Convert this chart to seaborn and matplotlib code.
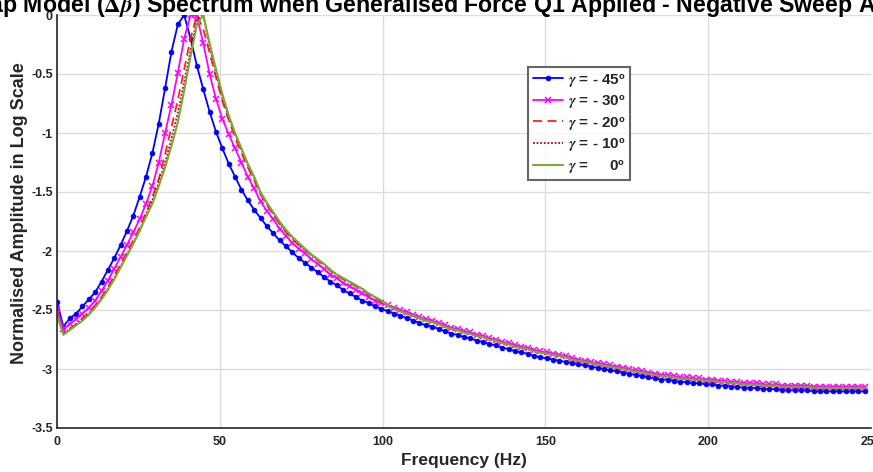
import numpy as np
import pandas as pd
import matplotlib
matplotlib.use("Agg")
import matplotlib.pyplot as plt
import seaborn as sns

# frequency bins (FFT resolution 500/256 Hz)
freq = np.arange(128) * 1.953125

gamma_m45 = [
    -2.43, -2.64, -2.57, -2.53, -2.47, -2.41, -2.35, -2.26, -2.16, -2.06,
    -1.95, -1.83, -1.70, -1.54, -1.37, -1.17, -0.92, -0.62, -0.31, -0.08,
    0.00, -0.20, -0.43, -0.63, -0.82, -0.99, -1.13, -1.26, -1.37, -1.48,
    -1.57, -1.65, -1.72, -1.79, -1.85, -1.91, -1.96, -2.01, -2.06, -2.10,
    -2.14, -2.18, -2.22, -2.26, -2.29, -2.33, -2.36, -2.39, -2.42, -2.44,
    -2.47, -2.49, -2.51, -2.53, -2.55, -2.57, -2.59, -2.61, -2.63, -2.64,
    -2.66, -2.68, -2.70, -2.71, -2.73, -2.74, -2.76, -2.77, -2.79, -2.80,
    -2.82, -2.83, -2.85, -2.86, -2.87, -2.89, -2.90, -2.91, -2.92, -2.93,
    -2.94, -2.95, -2.96, -2.97, -2.98, -2.99, -3.00, -3.01, -3.02, -3.03,
    -3.04, -3.05, -3.06, -3.07, -3.08, -3.09, -3.09, -3.10, -3.11, -3.11,
    -3.12, -3.12, -3.13, -3.13, -3.14, -3.14, -3.15, -3.15, -3.16, -3.16,
    -3.16, -3.17, -3.17, -3.17, -3.18, -3.18, -3.18, -3.18, -3.18, -3.19,
    -3.19, -3.19, -3.19, -3.19, -3.19, -3.19, -3.19, -3.19,
]

gamma_m30 = [
    -2.49, -2.66, -2.62, -2.58, -2.53, -2.48, -2.42, -2.34, -2.25, -2.15,
    -2.05, -1.95, -1.84, -1.73, -1.60, -1.45, -1.25, -1.00, -0.76, -0.49,
    -0.20, 0.00, -0.01, -0.24, -0.50, -0.71, -0.88, -1.01, -1.13, -1.25,
    -1.37, -1.47, -1.58, -1.66, -1.73, -1.81, -1.87, -1.93, -1.98, -2.02,
    -2.07, -2.11, -2.15, -2.20, -2.23, -2.27, -2.30, -2.33, -2.36, -2.39,
    -2.42, -2.44, -2.46, -2.48, -2.50, -2.52, -2.54, -2.56, -2.58, -2.59,
    -2.61, -2.63, -2.65, -2.66, -2.68, -2.69, -2.71, -2.72, -2.74, -2.75,
    -2.77, -2.78, -2.80, -2.81, -2.82, -2.84, -2.85, -2.86, -2.87, -2.88,
    -2.89, -2.91, -2.92, -2.93, -2.94, -2.95, -2.96, -2.97, -2.98, -2.99,
    -3.00, -3.01, -3.02, -3.03, -3.04, -3.05, -3.05, -3.06, -3.07, -3.07,
    -3.08, -3.08, -3.09, -3.09, -3.10, -3.10, -3.11, -3.11, -3.12, -3.12,
    -3.12, -3.13, -3.13, -3.13, -3.14, -3.14, -3.14, -3.14, -3.14, -3.15,
    -3.15, -3.15, -3.15, -3.15, -3.15, -3.15, -3.15, -3.15,
]

gamma_m20 = [
    -2.53, -2.70, -2.66, -2.62, -2.57, -2.52, -2.46, -2.39, -2.31, -2.21,
    -2.11, -2.01, -1.91, -1.80, -1.68, -1.54, -1.39, -1.18, -0.95, -0.72,
    -0.46, -0.20, 0.00, -0.12, -0.32, -0.53, -0.73, -0.89, -1.04, -1.17,
    -1.29, -1.40, -1.52, -1.61, -1.69, -1.77, -1.84, -1.90, -1.95, -1.99,
    -2.04, -2.08, -2.12, -2.17, -2.21, -2.24, -2.27, -2.30, -2.33, -2.37,
    -2.40, -2.43, -2.46, -2.49, -2.51, -2.53, -2.55, -2.57, -2.59, -2.60,
    -2.62, -2.64, -2.66, -2.67, -2.69, -2.70, -2.72, -2.73, -2.75, -2.76,
    -2.78, -2.79, -2.81, -2.82, -2.83, -2.85, -2.86, -2.87, -2.88, -2.89,
    -2.90, -2.92, -2.93, -2.94, -2.95, -2.96, -2.97, -2.98, -2.99, -3.00,
    -3.01, -3.02, -3.03, -3.04, -3.05, -3.06, -3.06, -3.07, -3.08, -3.08,
    -3.09, -3.09, -3.10, -3.10, -3.11, -3.11, -3.12, -3.12, -3.13, -3.13,
    -3.13, -3.14, -3.14, -3.14, -3.15, -3.15, -3.15, -3.15, -3.15, -3.16,
    -3.16, -3.16, -3.16, -3.16, -3.16, -3.16, -3.16, -3.16,
]

gamma_m10 = [
    -2.53, -2.70, -2.66, -2.62, -2.58, -2.53, -2.47, -2.40, -2.32, -2.23,
    -2.13, -2.03, -1.93, -1.82, -1.69, -1.57, -1.42, -1.25, -1.05, -0.83,
    -0.57, -0.30, -0.04, 0.00, -0.27, -0.49, -0.70, -0.87, -1.01, -1.14,
    -1.27, -1.38, -1.51, -1.60, -1.68, -1.76, -1.83, -1.89, -1.94, -1.99,
    -2.03, -2.07, -2.11, -2.16, -2.20, -2.23, -2.26, -2.29, -2.32, -2.36,
    -2.39, -2.42, -2.46, -2.49, -2.51, -2.53, -2.55, -2.57, -2.59, -2.60,
    -2.62, -2.64, -2.66, -2.67, -2.69, -2.70, -2.72, -2.73, -2.75, -2.76,
    -2.78, -2.79, -2.81, -2.82, -2.83, -2.85, -2.86, -2.87, -2.88, -2.89,
    -2.90, -2.92, -2.93, -2.94, -2.95, -2.96, -2.97, -2.98, -2.99, -3.00,
    -3.01, -3.02, -3.03, -3.04, -3.05, -3.06, -3.06, -3.07, -3.08, -3.08,
    -3.09, -3.09, -3.10, -3.10, -3.11, -3.11, -3.12, -3.12, -3.13, -3.13,
    -3.13, -3.14, -3.14, -3.14, -3.15, -3.15, -3.15, -3.15, -3.15, -3.16,
    -3.16, -3.16, -3.16, -3.16, -3.16, -3.16, -3.16, -3.16,
]

gamma_0 = [
    -2.54, -2.71, -2.67, -2.63, -2.59, -2.54, -2.48, -2.41, -2.33, -2.24,
    -2.14, -2.04, -1.94, -1.83, -1.71, -1.60, -1.45, -1.29, -1.11, -0.91,
    -0.64, -0.35, -0.08, 0.00, -0.24, -0.46, -0.67, -0.85, -1.00, -1.13,
    -1.26, -1.37, -1.50, -1.59, -1.67, -1.75, -1.82, -1.88, -1.93, -1.98,
    -2.03, -2.07, -2.11, -2.16, -2.20, -2.23, -2.26, -2.29, -2.32, -2.36,
    -2.39, -2.42, -2.46, -2.49, -2.51, -2.53, -2.55, -2.57, -2.59, -2.60,
    -2.62, -2.64, -2.66, -2.67, -2.69, -2.70, -2.72, -2.73, -2.75, -2.76,
    -2.78, -2.79, -2.81, -2.82, -2.83, -2.85, -2.86, -2.87, -2.88, -2.89,
    -2.90, -2.92, -2.93, -2.94, -2.95, -2.96, -2.97, -2.98, -2.99, -3.00,
    -3.01, -3.02, -3.03, -3.04, -3.05, -3.06, -3.06, -3.07, -3.08, -3.08,
    -3.09, -3.09, -3.10, -3.10, -3.11, -3.11, -3.12, -3.12, -3.13, -3.13,
    -3.13, -3.14, -3.14, -3.14, -3.15, -3.15, -3.15, -3.15, -3.15, -3.16,
    -3.16, -3.16, -3.16, -3.16, -3.16, -3.16, -3.16, -3.16,
]

labels = [r"$\gamma$ = - 45º", r"$\gamma$ = - 30º", r"$\gamma$ = - 20º",
          r"$\gamma$ = - 10º", r"$\gamma$ =     0º"]
xticks = [0, 50, 100, 150, 200, 250]
yticks = [-3.5, -3, -2.5, -2, -1.5, -1, -0.5, 0]
ytick_labels = ["-3.5", "-3", "-2.5", "-2", "-1.5", "-1", "-0.5", "0"]

sns.set_theme(style="white")
plt.rcParams["font.family"] = ["Liberation Sans", "DejaVu Sans"]
plt.rcParams["font.weight"] = "bold"
plt.rcParams["mathtext.fontset"] = "stix"

fig = plt.figure(figsize=(8.73, 4.72), dpi=100)
ax = fig.add_axes([57 / 873, 1 - 428 / 472, (871 - 57) / 873, (428 - 15) / 472])

series = [gamma_m45, gamma_m30, gamma_m20, gamma_m10, gamma_0]
styles = [
    dict(color="#0000FF", marker="o", markersize=3.4, markeredgecolor="#0000FF",
         markeredgewidth=0.6, linestyle="-", linewidth=1.3),
    dict(color="#FF00FF", marker="x", markersize=4.2, markeredgecolor="#FF00FF",
         markeredgewidth=1.1, linestyle="-", linewidth=1.3),
    dict(color="#FF2020", linestyle=(0, (5, 3)), linewidth=1.3),
    dict(color="#B3003C", linestyle=(0, (1, 1)), linewidth=1.3),
    dict(color="#77AC30", linestyle="-", linewidth=1.5),
]
for vals, lab, st in zip(series, labels, styles):
    sns.lineplot(x=freq, y=vals, ax=ax, label=lab, sort=False, **st)

ax.set_xlim(0, 250)
ax.set_ylim(-3.5, 0)
ax.set_xticks(xticks)
ax.set_xticklabels([str(t) for t in xticks], fontsize=9, fontweight="bold", color="#262626")
ax.set_yticks(yticks)
ax.set_yticklabels(ytick_labels, fontsize=9, fontweight="bold", color="#262626")
ax.tick_params(axis="y", direction="in", length=6, width=1, colors="#262626", pad=3)
ax.tick_params(axis="x", direction="in", length=6, width=1, colors="#262626", pad=6)
ax.grid(True, color="#DCDCDC", linewidth=1)
for s in ["top", "right"]:
    ax.spines[s].set_visible(False)
for s in ["left", "bottom"]:
    ax.spines[s].set_color("#262626")
    ax.spines[s].set_linewidth(1.2)

ax.set_xlabel("Frequency (Hz)", fontsize=12.5, fontweight="bold", color="#262626", labelpad=3)
ax.set_ylabel("Normalised Amplitude in Log Scale", fontsize=13, fontweight="bold",
              color="#262626")
ax.yaxis.set_label_coords(-29 / 814, 0.52)

fig.text(446 / 873, 1 - 12 / 472,
         r"Flap Model ($\Delta\beta$) Spectrum when Generalised Force Q1 Applied - Negative Sweep Angle",
         ha="center", va="baseline", fontsize=16.7, fontweight="bold", color="black")

leg = ax.legend(loc="upper left", bbox_to_anchor=(528 / 873, 1 - 67 / 472),
                bbox_transform=fig.transFigure, frameon=True, fancybox=False,
                prop=dict(size=11, weight="bold"), handlelength=2.0, handletextpad=0.3,
                labelspacing=0.3, borderpad=0.3, borderaxespad=0)
leg.get_frame().set_edgecolor("#404040")
leg.get_frame().set_linewidth(1.5)

fig.savefig("out.png", dpi=100)
